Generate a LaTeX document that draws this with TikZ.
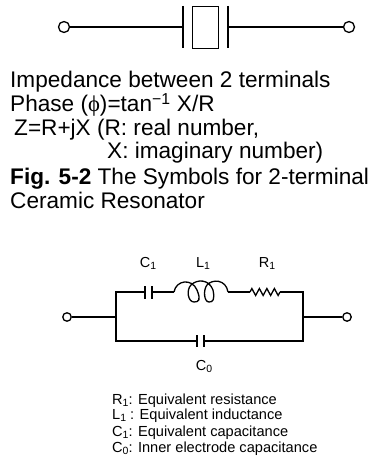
\documentclass[tikz,border=0pt]{standalone}
\usepackage{fontspec}
\setmainfont{Liberation Sans}
\newfontfamily\greekfont{Liberation Serif}
\usetikzlibrary{decorations.pathmorphing}
\newcommand{\lowidx}[1]{\raisebox{-0.2em}{\scalebox{0.72}{#1}}}
\begin{document}
\begin{tikzpicture}[
          x = 1pt, y = -1pt,
       wire/.style = {line width=1.3pt},
   terminal/.style = {circle, draw, line width=1.3pt, inner sep=0pt, minimum size=11pt},
  smallterm/.style = {circle, draw, line width=1.3pt, inner sep=0pt, minimum size=8.5pt},
      plate/.style = {line width=1.3pt},
   bodytext/.style = {anchor=base west, inner sep=0pt, font=\fontsize{22.6}{24}\selectfont},
  valuetext/.style = {anchor=base, inner sep=0pt, font=\fontsize{14.5}{16}\selectfont},
   notetext/.style = {anchor=base west, inner sep=0pt, font=\fontsize{14.6}{16}\selectfont}
                        ]
\useasboundingbox (0,0) rectangle (371,457);
% symbol
    \node[terminal] (a) at (64,27) {};
    \node[terminal] (b) at (349,27) {};
    \node[draw, line width=1.3pt, inner sep=0pt, minimum width=26pt, minimum height=42pt] (box) at (205.5,27.5) {};
    \coordinate (p1) at (183,27);
    \coordinate (p2) at (228,27);
    \draw[wire] (a) -- (p1);
    \draw[wire] (p2) -- (b);
    \draw[plate] (183,6) -- (183,48);
    \draw[plate] (228,6) -- (228,48);
% text
    \node[bodytext] (t1) at (10,88) {Impedance between 2 terminals};
    \node[bodytext] (t2) at (10,112) {Phase ({\greekfont ϕ})=tan\textsuperscript{−1} X/R};
    \node[bodytext] (t3) at (14,136) {Z=R+jX (R: real number,};
    \node[bodytext] (t4) at (107,158) {X: imaginary number)};
    \node[bodytext] (t5) at (10,184) {\textbf{Fig. 5-2} The Symbols for 2-terminal};
    \node[bodytext] (t6) at (10,208) {Ceramic Resonator};
% circuit
    \node[smallterm] (c) at (67,317) {};
    \node[smallterm] (d) at (347,317) {};
    \coordinate (j1) at (116,317);
    \coordinate (j2) at (303,317);
    \coordinate (c1a) at (145,292);
    \coordinate (c1b) at (152,292);
    \coordinate (l1a) at (174,292);
    \coordinate (l1b) at (228,292);
    \coordinate (r1a) at (250,292);
    \coordinate (r1b) at (280,292);
    \coordinate (c0a) at (197,341);
    \coordinate (c0b) at (204,341);
    \draw[wire] (c) -- (j1);
    \draw[wire] (j2) -- (d);
    \draw[wire] (c1a) -| (j1) |- (c0a);
    \draw[wire] (c0b) -| (j2) |- (r1b);
    \draw[wire] (c1b) -- (l1a);
    \draw[wire] (l1b) -- (r1a);
    \draw[plate] (145,286) -- (145,299);
    \draw[plate] (152,286) -- (152,299);
    \draw[plate] (197,335) -- (197,347);
    \draw[plate] (204,335) -- (204,347);
% coil
    \draw[wire] (l1a) .. controls (176,280) and (192,278) .. (197,290)
        .. controls (201,300) and (199,302) .. (194,302) .. controls (188,302) and (186,290) .. (191,285)
        .. controls (197,279) and (209,279) .. (213,290)
        .. controls (215,300) and (213,302) .. (209,302) .. controls (204,302) and (203,290) .. (207,285)
        .. controls (212,279) and (226,279) .. (l1b);
% resistor
    \draw[wire, decorate, decoration={zigzag, segment length=7.5pt, amplitude=3.5pt}] (r1a) -- (r1b);
% labels
    \node[valuetext] (lc1) at (148,267) {C\lowidx{1}};
    \node[valuetext] (ll1) at (203,267) {L\lowidx{1}};
    \node[valuetext] (lr1) at (267,267) {R\lowidx{1}};
    \node[valuetext] (lc0) at (204,370) {C\lowidx{0}};
    \node[notetext] (n1) at (112,404) {R\lowidx{1}: Equivalent resistance};
    \node[notetext] (n2) at (112,419) {L\lowidx{1} : Equivalent inductance};
    \node[notetext] (n3) at (112,436) {C\lowidx{1}: Equivalent capacitance};
    \node[notetext] (n4) at (112,452) {C\lowidx{0}: Inner electrode capacitance};
\end{tikzpicture}
\end{document}
